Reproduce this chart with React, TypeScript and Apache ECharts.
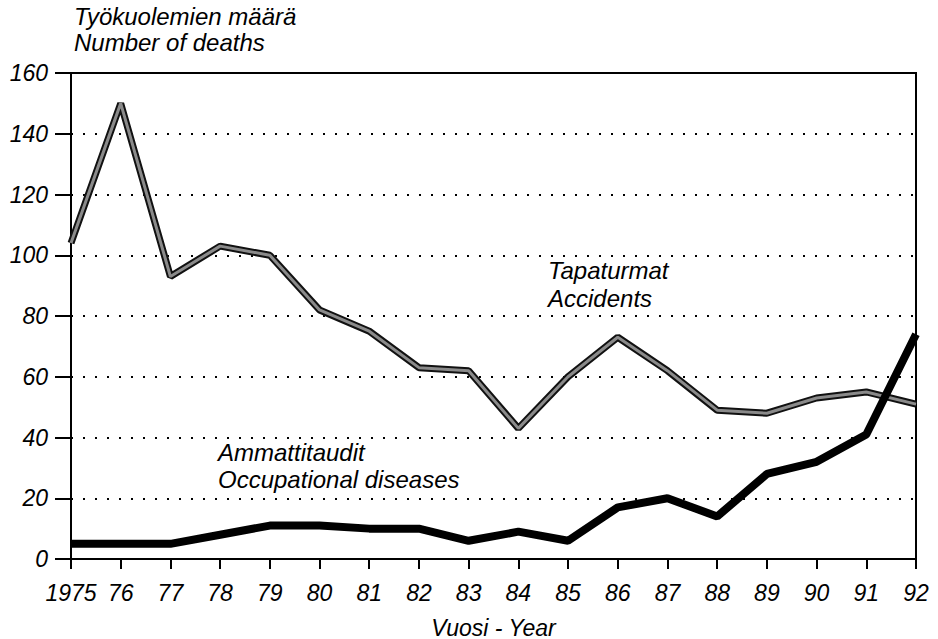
import React, { useEffect, useRef } from "react";
import * as echarts from "echarts";

const years = ["1975", "76", "77", "78", "79", "80", "81", "82", "83", "84", "85", "86", "87", "88", "89", "90", "91", "92"];
const accidents = [104, 150, 93, 103, 100, 82, 75, 63, 62, 43, 60, 73, 62, 49, 48, 53, 55, 51];
const diseases = [5, 5, 5, 8, 11, 11, 10, 10, 6, 9, 6, 17, 20, 14, 28, 32, 41, 74];
const yTicks = { min: 0, max: 160, interval: 20 };

const FONT = "'Liberation Sans', Arial, Helvetica, sans-serif";

export default function App() {
  const ref = useRef<HTMLDivElement>(null);
  useEffect(() => {
    if (!ref.current) return;
    const chart = echarts.init(ref.current, null, { renderer: "svg" });
    const textStyle = { fontFamily: FONT, fontStyle: "italic", fontSize: 24, fill: "#000" };
    chart.setOption({
      animation: false,
      backgroundColor: "#fff",
      grid: {
        left: 71, right: 22, top: 73, bottom: 80,
        outerBoundsMode: "none", containLabel: false,
        show: true, borderColor: "#000", borderWidth: 2, backgroundColor: "transparent",
      },
      xAxis: {
        type: "category",
        data: years,
        boundaryGap: false,
        axisLine: { lineStyle: { color: "#000", width: 2 } },
        axisTick: { show: true, length: 10, interval: 0, lineStyle: { color: "#000", width: 2 } },
        axisLabel: { color: "#000", fontFamily: FONT, fontStyle: "italic", fontSize: 23, margin: 22, interval: 0 },
        splitLine: { show: false },
        name: "Vuosi - Year",
        nameLocation: "middle",
        nameGap: 57,
        nameTextStyle: { color: "#000", fontFamily: FONT, fontStyle: "italic", fontSize: 23 },
      },
      yAxis: {
        type: "value",
        min: yTicks.min,
        max: yTicks.max,
        interval: yTicks.interval,
        axisLine: { show: true, lineStyle: { color: "#000", width: 2 } },
        axisTick: { show: true, length: 16, lineStyle: { color: "#000", width: 2 } },
        axisLabel: { color: "#000", fontFamily: FONT, fontStyle: "italic", fontSize: 23, margin: 23 },
        splitLine: { show: true, lineStyle: { color: "#000", width: 2, type: [2, 10] } },
      },
      series: [
        {
          type: "line",
          data: accidents,
          symbol: "none",
          lineStyle: { color: "#111", width: 7 },
          z: 3,
        },
        {
          type: "line",
          data: accidents,
          symbol: "none",
          lineStyle: { color: "#8a8a8a", width: 3 },
          z: 4,
        },
        {
          type: "line",
          data: diseases,
          symbol: "none",
          lineStyle: { color: "#000", width: 8 },
          z: 5,
        },
      ],
      graphic: [
        { type: "text", left: 74, top: 3, style: { ...textStyle, text: "Työkuolemien määrä\nNumber of deaths", lineHeight: 26 } },
        { type: "text", left: 548, top: 256, style: { ...textStyle, text: "Tapaturmat\nAccidents", lineHeight: 28 } },
        { type: "text", left: 218, top: 439, style: { ...textStyle, text: "Ammattitaudit\nOccupational diseases", lineHeight: 27 } },
      ],
    });
    return () => chart.dispose();
  }, []);
  return <div ref={ref} style={{ width: 938, height: 639, position: "absolute", left: 0, top: 0 }} />;
}
